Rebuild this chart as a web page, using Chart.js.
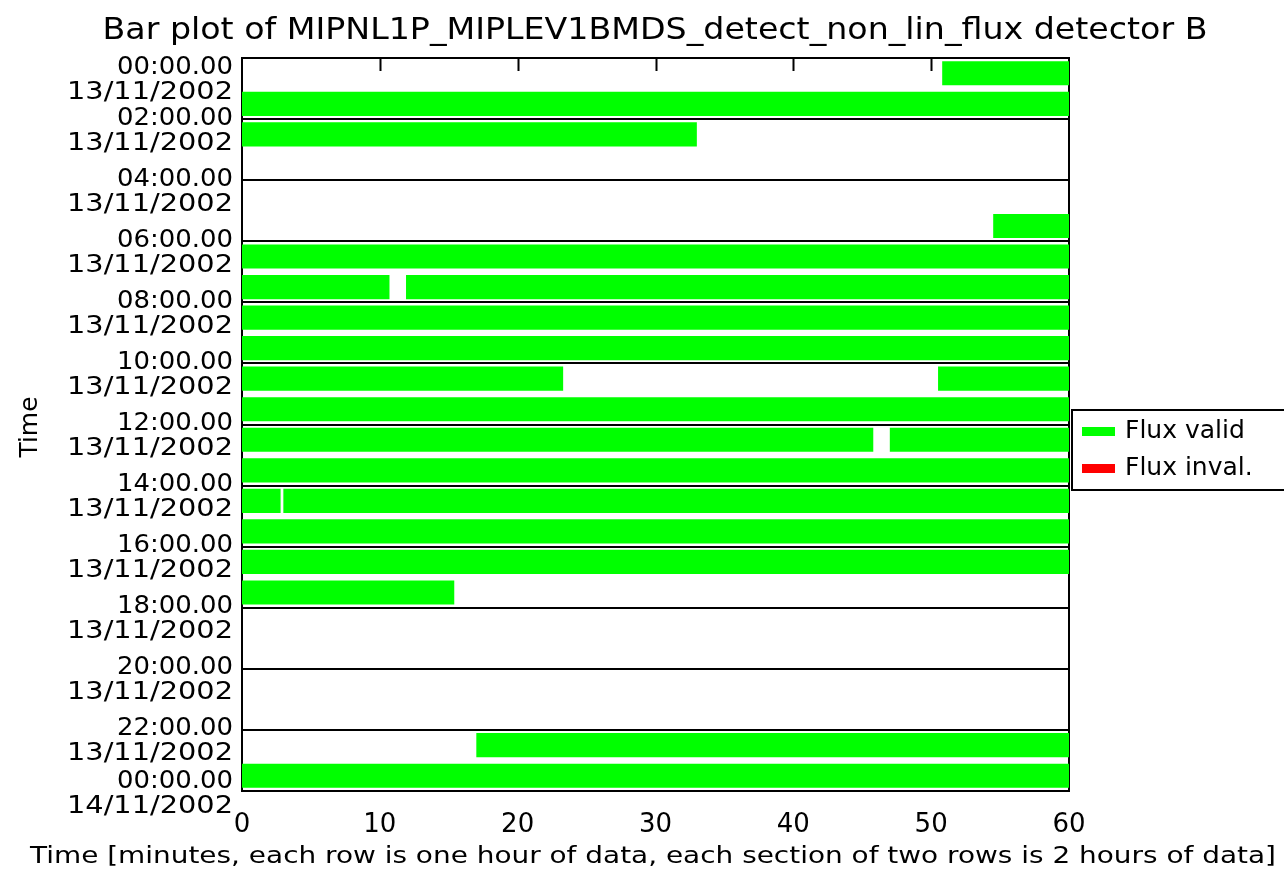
<!DOCTYPE html>
<html>
<head>
<meta charset="utf-8">
<script src="https://cdn.jsdelivr.net/npm/chart.js@4"></script>
<style>
  body { margin: 0; background: #fff; }
</style>
</head>
<body>
<canvas id="flux_chart" width="1284" height="875"></canvas>
<script>
// one category per hour of data (rows)
var hours = ['00:00','01:00','02:00','03:00','04:00','05:00','06:00','07:00','08:00','09:00','10:00','11:00',
  '12:00','13:00','14:00','15:00','16:00','17:00','18:00','19:00','20:00','21:00','22:00','23:00'];
// labels on the section boundaries (every 2 rows)
var sectionTimes = ['00:00.00','02:00.00','04:00.00','06:00.00','08:00.00','10:00.00','12:00.00',
  '14:00.00','16:00.00','18:00.00','20:00.00','22:00.00','00:00.00'];
var sectionDates = ['13/11/2002','13/11/2002','13/11/2002','13/11/2002','13/11/2002','13/11/2002','13/11/2002',
  '13/11/2002','13/11/2002','13/11/2002','13/11/2002','13/11/2002','14/11/2002'];
var minuteTicks = [0, 10, 20, 30, 40, 50, 60];

// [start, end] in minutes, first valid segment of each row
var validFirst = [[50.8,60],[0,60],[0,33],null,null,[54.5,60],[0,60],[0,10.7],[0,60],[0,60],[0,23.3],[0,60],
  [0,45.8],[0,60],[0,2.8],[0,60],[0,60],[0,15.4],null,null,null,null,[17,60],[0,60]];
// second valid segment (rows with a gap)
var validSecond = [null,null,null,null,null,null,null,[11.9,60],null,null,[50.5,60],null,
  [47,60],null,[3.0,60],null,null,null,null,null,null,null,null,null];
// no invalid flux in this period
var invalidFlux = [null,null,null,null,null,null,null,null,null,null,null,null,
  null,null,null,null,null,null,null,null,null,null,null,null];

var FONT = 'DejaVu Sans';

// draw text squeezed/stretched horizontally to a given width
function stretchText(ctx, text, x, cy, size, width, align) {
  ctx.font = size + 'px "' + FONT + '"';
  var sx = width / ctx.measureText(text).width;
  ctx.save();
  ctx.translate(x, cy);
  ctx.scale(sx, 1);
  ctx.textAlign = align || 'center';
  ctx.textBaseline = 'middle';
  ctx.fillText(text, 0, 0);
  ctx.restore();
}

const framePlugin = {
  id: 'frame',
  beforeDatasetsDraw(chart) {
    const ctx = chart.ctx, a = chart.chartArea, x = chart.scales.x;
    ctx.save();
    ctx.strokeStyle = '#000';
    ctx.lineWidth = 2;
    ctx.strokeRect(a.left, a.top, a.width, a.height);
    // small tick marks hanging from the top edge
    ctx.beginPath();
    minuteTicks.slice(1, -1).forEach(function(v) {
      var px = Math.round(x.getPixelForValue(v)) + 0.5;
      ctx.moveTo(px, a.top);
      ctx.lineTo(px, a.top + 13);
    });
    ctx.stroke();
    ctx.restore();
  },
  afterDraw(chart) {
    const ctx = chart.ctx, a = chart.chartArea, y = chart.scales.y;
    ctx.save();
    ctx.fillStyle = '#000';

    // y labels on section boundaries
    var rowH = y.getPixelForValue(1) - y.getPixelForValue(0);
    for (var k = 0; k < sectionTimes.length; k++) {
      var yb = y.getPixelForValue(2 * k) - rowH / 2;
      var dt = k === 0 ? 9 : (k === sectionTimes.length - 1 ? -10 : -1);
      stretchText(ctx, sectionTimes[k], a.left - 9, yb + dt, 25, 116, 'right');
      stretchText(ctx, sectionDates[k], a.left - 9, yb + dt + 25, 25, 166, 'right');
    }

    // titles
    stretchText(ctx, 'Bar plot of MIPNL1P_MIPLEV1BMDS_detect_non_lin_flux detector B', 655, 31, 30, 1105);
    stretchText(ctx, 'Time [minutes, each row is one hour of data, each section of two rows is 2 hours of data]', 653, 857, 23, 1246);

    ctx.save();
    ctx.translate(30, 427);
    ctx.rotate(-Math.PI / 2);
    ctx.font = '25px "' + FONT + '"';
    ctx.textAlign = 'center';
    ctx.textBaseline = 'middle';
    ctx.fillText('Time', 0, 0);
    ctx.restore();

    // legend box
    var seen = {};
    var items = chart.data.datasets.filter(function(ds) {
      if (seen[ds.label]) return false;
      seen[ds.label] = true;
      return true;
    });
    var lx = a.right + 3, ly = 410;
    ctx.strokeStyle = '#000';
    ctx.lineWidth = 2;
    ctx.strokeRect(lx, ly, 260, 80);
    ctx.font = '25px "' + FONT + '"';
    ctx.textAlign = 'left';
    ctx.textBaseline = 'middle';
    items.forEach(function(ds, i) {
      var cy = ly + 21 + i * 37;
      ctx.fillStyle = ds.backgroundColor;
      ctx.fillRect(lx + 10, cy - 4, 33, 9);
      ctx.fillStyle = '#000';
      ctx.fillText(ds.label, lx + 53, cy);
    });
    ctx.restore();
  }
};

const flux_chart = document.querySelector('#flux_chart').getContext('2d');

let chart1 = new Chart(flux_chart, {
  type: 'bar',
  data: {
    labels: hours,
    datasets: [{
      label: 'Flux valid',
      data: validFirst,
      backgroundColor: '#00ff00',
      grouped: false,
    }, {
      label: 'Flux valid',
      data: validSecond,
      backgroundColor: '#00ff00',
      grouped: false,
    }, {
      label: 'Flux inval.',
      data: invalidFlux,
      backgroundColor: '#ff0000',
      grouped: false,
    }]
  },
  options: {
    indexAxis: 'y',
    responsive: false,
    animation: false,
    borderWidth: 0,
    categoryPercentage: 1,
    barPercentage: 0.79,
    layout: {
      padding: { top: 58, right: 215, left: 0, bottom: 0 }
    },
    plugins: {
      legend: { display: false },
      tooltip: { enabled: false },
    },
    scales: {
      x: {
        type: 'linear',
        min: 0,
        max: 60,
        afterFit: function(scale) { scale.height = 84; },
        grid: { display: false, drawTicks: false },
        border: { display: false },
        ticks: {
          stepSize: 10,
          padding: 19,
          color: '#000',
          font: { family: FONT, size: 26 },
        },
      },
      y: {
        type: 'category',
        offset: true,
        afterFit: function(scale) { scale.width = 242; },
        border: { display: false },
        ticks: { display: false },
        grid: {
          offset: true,
          drawTicks: false,
          lineWidth: 2,
          color: function(c) { return c.index % 2 === 0 ? '#000' : 'rgba(0,0,0,0)'; },
        },
      },
    },
  },
  plugins: [framePlugin],
});
</script>
</body>
</html>
